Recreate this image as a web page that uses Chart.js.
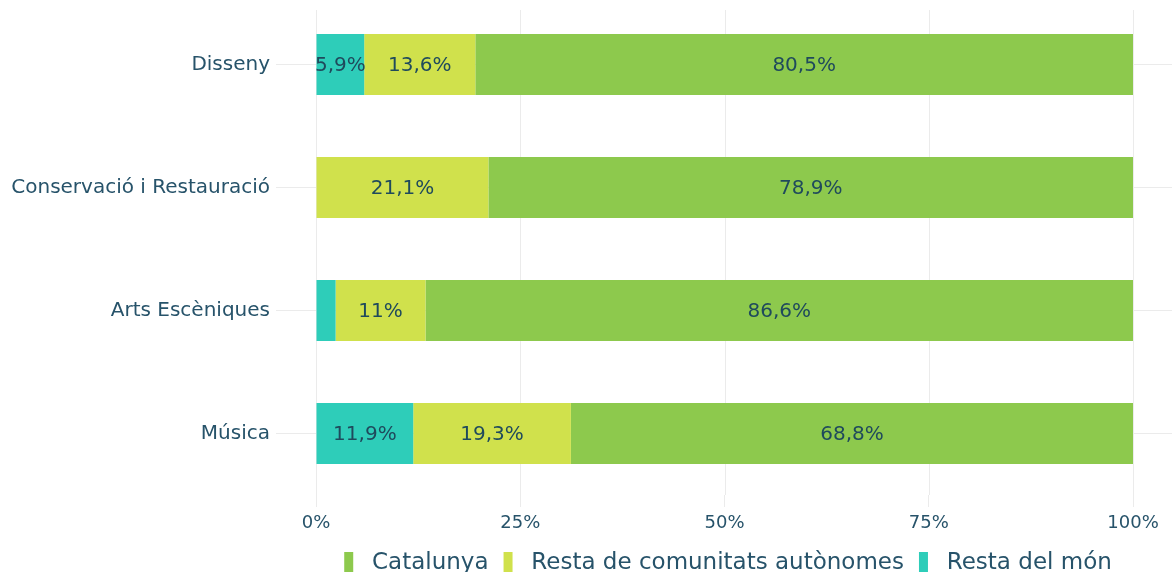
<!DOCTYPE html>
<html>
<head>
<meta charset="utf-8">
<script src="https://cdn.jsdelivr.net/npm/chart.js@4"></script>
<style>
  html, body { margin: 0; padding: 0; background: #ffffff; overflow: hidden; }
  #wrap { width: 1172px; height: 585px; position: relative; }
</style>
</head>
<body>
<div id="wrap"><canvas id="c"></canvas></div>
<script>
const categories = ['Disseny', 'Conservació i Restauració', 'Arts Escèniques', 'Música'];
const restaMon = [5.9, 0, 2.4, 11.9];
const restaComunitats = [13.6, 21.1, 11, 19.3];
const catalunya = [80.5, 78.9, 86.6, 68.8];
const xTickValues = [0, 25, 50, 75, 100];

const TEXT = '#27536a';
const LABEL = '#1f4a5c';
const GRID = '#ebebeb';
const FONT = "'DejaVu Sans', sans-serif";

const fmt = v => String(v).replace('.', ',') + '%';

const dataLabels = {
  id: 'dataLabels',
  afterDatasetsDraw(chart) {
    const ctx = chart.ctx;
    ctx.save();
    ctx.font = "20px " + FONT;
    ctx.fillStyle = LABEL;
    ctx.textAlign = 'center';
    ctx.textBaseline = 'middle';
    chart.data.datasets.forEach((ds, i) => {
      const meta = chart.getDatasetMeta(i);
      if (meta.hidden) return;
      meta.data.forEach((el, j) => {
        const v = ds.data[j];
        if (!v || v < 3) return;
        const p = el.getProps(['x', 'y', 'base'], true);
        ctx.fillText(fmt(v), (p.x + p.base) / 2, p.y + 1);
      });
    });
    ctx.restore();
  }
};

// vertical grid lines drawn from the x scale, starting slightly below the top edge
const xGrid = {
  id: 'xGrid',
  beforeDatasetsDraw(chart) {
    const ctx = chart.ctx, xs = chart.scales.x, area = chart.chartArea;
    ctx.save();
    ctx.strokeStyle = GRID;
    ctx.lineWidth = 1;
    xs.ticks.forEach(t => {
      const px = Math.round(xs.getPixelForValue(t.value)) + 0.5;
      ctx.beginPath();
      ctx.moveTo(px, area.top + 7);
      ctx.lineTo(px, area.bottom);
      ctx.stroke();
    });
    ctx.restore();
  }
};

const legendShift = {
  id: 'legendShift',
  afterLayout(chart) {
    if (chart.legend) { chart.legend.left -= 16; chart.legend.right -= 16; }
  }
};

new Chart(document.getElementById('c'), {
  type: 'bar',
  data: {
    labels: categories,
    datasets: [
      { label: 'Resta del món', data: restaMon, backgroundColor: '#2ecdb9' },
      { label: 'Resta de comunitats autònomes', data: restaComunitats, backgroundColor: '#d0e14c' },
      { label: 'Catalunya', data: catalunya, backgroundColor: '#8dc94d' }
    ]
  },
  options: {
    indexAxis: 'y',
    responsive: true,
    maintainAspectRatio: false,
    animation: false,
    layout: { padding: { top: 3, left: 0, right: 0, bottom: 0 } },
    datasets: { bar: { barPercentage: 1, categoryPercentage: 0.496, borderWidth: 0 } },
    scales: {
      x: {
        stacked: true,
        min: 0,
        max: 100 * 856 / 817,
        afterBuildTicks: s => { s.ticks = xTickValues.map(v => ({ value: v })); },
        afterFit: s => { s.height = 42; },
        grid: { color: GRID, lineWidth: 1, tickLength: 12, tickColor: GRID, drawOnChartArea: false },
        border: { display: false },
        ticks: {
          color: TEXT,
          font: { family: FONT, size: 18 },
          padding: 6,
          callback: v => v + '%'
        }
      },
      y: {
        stacked: true,
        afterFit: s => { s.width = 316; s.paddingTop = 0; s.paddingBottom = 0; },
        grid: { color: GRID, lineWidth: 1, tickLength: 40, tickColor: GRID, offset: false },
        border: { display: false },
        ticks: {
          color: TEXT,
          font: { family: FONT, size: 20 },
          padding: 6
        }
      }
    },
    plugins: {
      legend: {
        position: 'bottom',
        fullSize: false,
        reverse: true,
        labels: {
          color: TEXT,
          font: { family: FONT, size: 23 },
          boxWidth: 9,
          boxHeight: 23,
          padding: 15,
          generateLabels(chart) {
            const items = Chart.defaults.plugins.legend.labels.generateLabels(chart);
            items.forEach(it => { it.text = ' ' + it.text; });
            return items;
          }
        }
      },
      tooltip: { enabled: false }
    }
  },
  plugins: [xGrid, dataLabels, legendShift]
});
</script>
</body>
</html>
